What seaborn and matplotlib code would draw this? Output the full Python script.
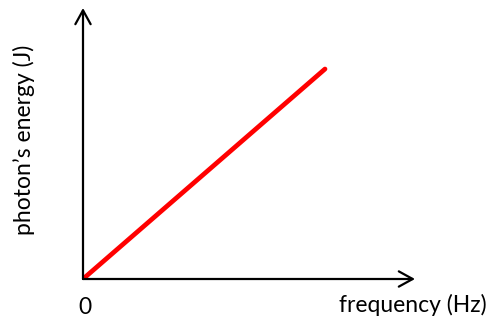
import matplotlib
matplotlib.use("Agg")
import matplotlib.pyplot as plt
import seaborn as sns

# photon energy vs frequency (E = h f), arbitrary units
frequency = [0.0, 1.0]
energy = [0.0, 1.0]

sns.set_style("white")
plt.rcParams['font.family'] = ['Lato', 'DejaVu Sans']

W, H = 496, 320
fig = plt.figure(figsize=(W / 100, H / 100), dpi=100)
ax = fig.add_axes([83 / W, (H - 279) / H, 332 / W, 271 / H])

sns.lineplot(x=frequency, y=energy, color="red", lw=3.4, ax=ax)
ax.set_xlim(0, 332 / 242)
ax.set_ylim(0, 271 / 210)

for s in ax.spines.values():
    s.set_visible(False)
ax.set_xticks([])
ax.set_yticks([])

arrow = dict(arrowstyle="->,head_length=1.0,head_width=0.55", lw=1.6, color="black",
             shrinkA=0, shrinkB=0)
ax.annotate("", xy=(1, 0), xytext=(0, 0), xycoords="axes fraction", arrowprops=arrow)
ax.annotate("", xy=(0, 1), xytext=(0, 0), xycoords="axes fraction", arrowprops=arrow)

fig.text(85 / W, 1 - 308 / H, "0", fontsize=16.5, color="black", ha="center", va="center")
fig.text(487 / W, 1 - 305 / H, "frequency (Hz)", fontsize=16.5, color="black",
         ha="right", va="center")
fig.text(24 / W, 1 - 140 / H, "photon\u2019s energy (J)", fontsize=16.5, color="black",
         rotation=90, ha="center", va="center")

fig.savefig("out.png", dpi=100)
